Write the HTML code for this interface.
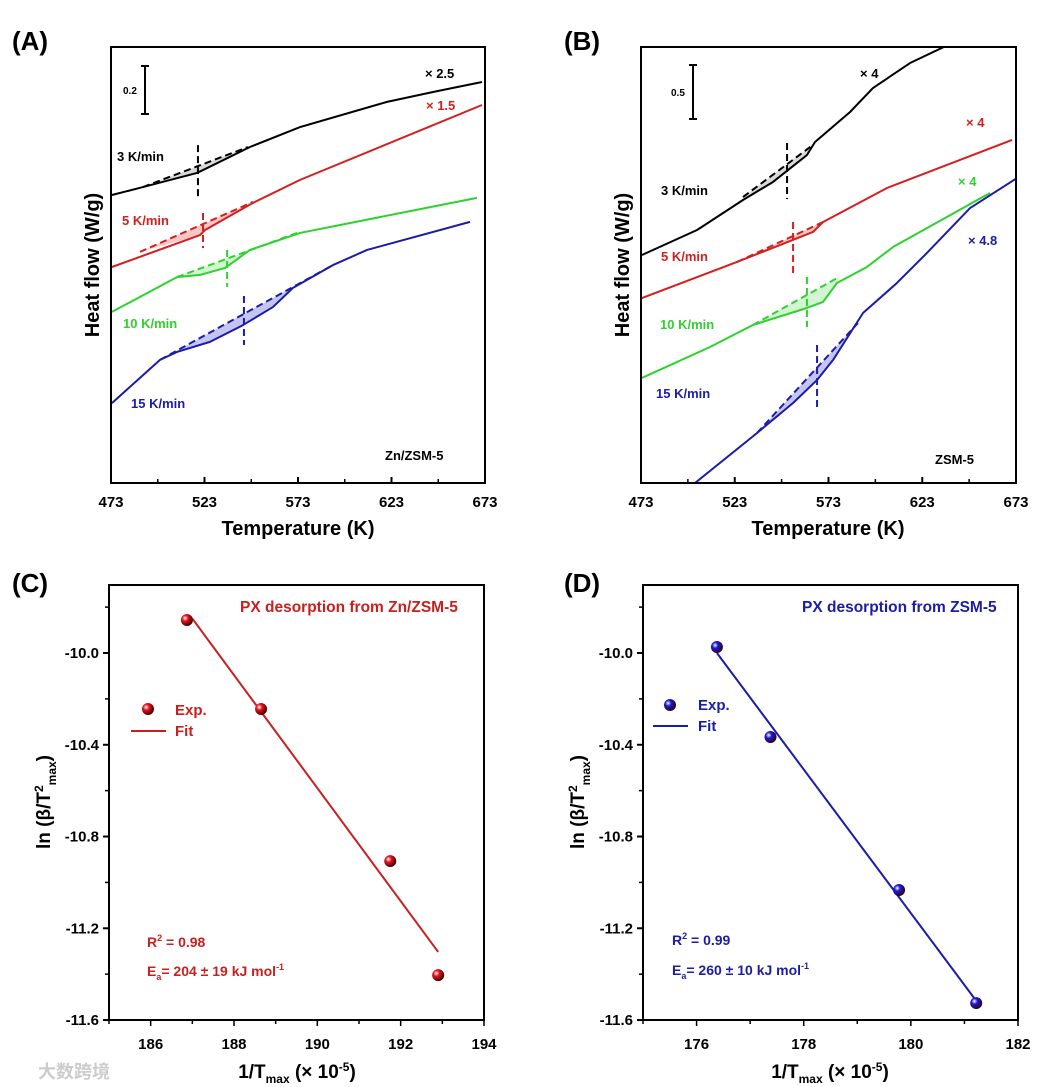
<!DOCTYPE html>
<html><head><meta charset="utf-8"><style>
body{margin:0;background:#fff;}
svg{display:block;font-family:"Liberation Sans",Arial,sans-serif;font-weight:bold;}
polyline,line{stroke-linejoin:round;}
</style></head><body>
<svg id="fig" width="1044" height="1087" viewBox="0 0 1044 1087" xmlns="http://www.w3.org/2000/svg"></svg>
<script>
// ===== Panel A data (Zn/ZSM-5 DSC) =====
const aBlackT=[473.5,490.1,519.0,522.2,547.3,574.1,620.6,645.2,671.4];
const aBlackV=[1.200,1.233,1.292,1.304,1.400,1.483,1.588,1.629,1.671];
const aRedT=[473.5,520.6,523.3,548.9,574.1,671.4];
const aRedV=[0.900,1.033,1.054,1.167,1.263,1.575];
const aGreenT=[473.5,508.3,520.6,534.0,547.3,574.1,668.7];
const aGreenV=[0.713,0.858,0.867,0.896,0.971,1.042,1.188];
const aBlueT=[473.5,499.2,508.3,525.9,543.6,559.6,570.3,591.7,609.9,665.0];
const aBlueV=[0.333,0.513,0.546,0.588,0.658,0.733,0.813,0.908,0.971,1.088];
const aBaseT=[[490.1,546.2],[488.5,548.9],[508.3,572.5],[499.2,591.7]];
const aBaseV=[[1.233,1.400],[0.963,1.171],[0.858,1.042],[0.513,0.908]];
const aPeakT=[519.5,522.2,535.1,544.1];
const aPeakV=[[1.408,1.183],[1.125,0.979],[0.971,0.817],[0.779,0.575]];
// ===== Panel B data (ZSM-5 DSC) =====
const bBlackT=[473.5,502.9,527.4,543.4,561.5,565.8,584.5,596.7,616.5,636.7];
const bBlackV=[2.151,2.387,2.670,2.840,3.094,3.217,3.500,3.726,3.962,4.132];
const bRedT=[473.5,524.2,547.1,564.7,570.1,604.2,670.9];
const bRedV=[1.745,2.085,2.245,2.368,2.462,2.783,3.236];
const bGreenT=[473.5,509.8,532.7,561.5,570.1,577.5,593.5,607.4,659.1];
const bGreenV=[0.991,1.283,1.491,1.651,1.708,1.887,2.038,2.226,2.736];
const bBlueT=[501.8,534.9,554.1,566.9,575.4,591.4,609.5,625.5,648.5,673.5];
const bBlueV=[0.0,0.472,0.755,0.972,1.160,1.604,1.887,2.170,2.594,2.877];
const bBaseT=[[527.4,564.7],[524.2,570.1],[532.7,578.6],[534.9,588.7]];
const bBaseV=[[2.698,3.189],[2.085,2.462],[1.491,1.943],[0.472,1.509]];
const bPeakT=[550.9,554.1,561.5,566.9];
const bPeakV=[[3.208,2.679],[2.462,1.962],[1.943,1.472],[1.302,0.708]];
const tempTicks=[473,523,573,623,673];
// ===== Panel C/D data =====
const cX=[186.87,188.65,191.75,192.90];
const cY=[-9.856,-10.244,-10.907,-11.404];
const cFitX=[187.0,192.9];
const cFitY=[-9.85,-11.303];
const dX=[176.38,177.38,179.78,181.22];
const dY=[-9.974,-10.366,-11.033,-11.526];
const dFitX=[176.38,181.2];
const dFitY=[-10.0,-11.51];
const lnTicks=[-10.0,-10.4,-10.8,-11.2,-11.6];
const cTicks=[186,188,190,192,194];
const dTicks=[176,178,180,182];

const NS="http://www.w3.org/2000/svg";
const svg=document.getElementById('fig');
function el(tag,attrs,parent){const e=document.createElementNS(NS,tag);for(const k in attrs)e.setAttribute(k,attrs[k]);(parent||svg).appendChild(e);return e;}
function txt(s,x,y,size,fill,anchor,parent){const t=el('text',{x:x,y:y,'font-size':size,fill:fill||'#000','text-anchor':anchor||'start'},parent);t.textContent=s;return t;}

const defs=el('defs',{});
function grad(id,c){const g=el('radialGradient',{id:id,cx:'0.35',cy:'0.35',r:'0.7'},defs);el('stop',{offset:'0','stop-color':'#fff'},g);el('stop',{offset:'0.35','stop-color':c},g);el('stop',{offset:'1','stop-color':'#300'},g);}
grad('gr','#e8141c');grad('gb','#1a1ad8');
const clipA=el('clipPath',{id:'clipA'},defs);el('rect',{x:111,y:47,width:374,height:436},clipA);
const clipB=el('clipPath',{id:'clipB'},defs);el('rect',{x:641,y:47,width:375,height:436},clipB);

function dscPanel(o){
  const g=el('g',{'clip-path':'url(#'+o.clip+')'});
  
  
  const X=T=>o.x0+(T-473)*(o.w/200), Y=v=>483-v*o.k;
  o.series.forEach((s,i)=>{
    const bt=o.baseT[i], bv=o.baseV[i];
    let pts=[[X(bt[0]),Y(bv[0])],[X(bt[1]),Y(bv[1])]];
    for(let j=s.T.length-1;j>=0;j--){if(s.T[j]>=bt[0]-0.5&&s.T[j]<=bt[1]+0.5)pts.push([X(s.T[j]),Y(s.V[j])]);}
    const f=el('polygon',{points:pts.map(p=>p.join(',')).join(' '),fill:s.fill,'fill-opacity':0.45,stroke:'none'},g);
    
    
    const p=el('polyline',{points:s.T.map((t,j)=>X(t)+','+Y(s.V[j])).join(' '),fill:'none',stroke:s.c,'stroke-width':2},g);
    
    
    const d=el('line',{x1:X(bt[0]),y1:Y(bv[0]),x2:X(bt[1]),y2:Y(bv[1]),stroke:s.c,'stroke-width':2,'stroke-dasharray':'7,4'},g);
    
    
    const pv=o.peakV[i];
    const v=el('line',{x1:X(o.peakT[i]),y1:Y(pv[0]),x2:X(o.peakT[i]),y2:Y(pv[1]),stroke:s.c,'stroke-width':2,'stroke-dasharray':'7,4'},g);
    
    
  });
  const fr=el('rect',{x:o.x0,y:47,width:o.w,height:436,fill:'none',stroke:'#000','stroke-width':2});
  
  
  tempTicks.forEach((t,i)=>{
    el('line',{x1:X(t),y1:483,x2:X(t),y2:477,stroke:'#000','stroke-width':2});
    if(i<tempTicks.length-1)el('line',{x1:X(t+25),y1:483,x2:X(t+25),y2:479,stroke:'#000','stroke-width':1.5});
    const l=txt(String(t),X(t),507,15,'#000','middle');
    
    
  });
}
dscPanel({name:'panel-a',clip:'clipA',x0:111,w:374,k:240,baseT:aBaseT,baseV:aBaseV,peakT:aPeakT,peakV:aPeakV,series:[
 {key:'3k',T:aBlackT,V:aBlackV,c:'#000',fill:'#aaa'},{key:'5k',T:aRedT,V:aRedV,c:'#d3201f',fill:'#f08080'},
 {key:'10k',T:aGreenT,V:aGreenV,c:'#2fd12f',fill:'#9be89b'},{key:'15k',T:aBlueT,V:aBlueV,c:'#1c1ca6',fill:'#7f7fe6'}]});
dscPanel({name:'panel-b',clip:'clipB',x0:641,w:375,k:106,baseT:bBaseT,baseV:bBaseV,peakT:bPeakT,peakV:bPeakV,series:[
 {key:'3k',T:bBlackT,V:bBlackV,c:'#000',fill:'#aaa'},{key:'5k',T:bRedT,V:bRedV,c:'#d3201f',fill:'#f08080'},
 {key:'10k',T:bGreenT,V:bGreenV,c:'#2fd12f',fill:'#9be89b'},{key:'15k',T:bBlueT,V:bBlueV,c:'#1c1ca6',fill:'#7f7fe6'}]});

function lnPanel(o){
  const X=v=>o.x0+(v-o.xmin)*(o.w/(o.xmax-o.xmin));
  const Yf=v=>653+(-10-v)*229.4;
  const fr=el('rect',{x:o.x0,y:585,width:o.w,height:435,fill:'none',stroke:'#000','stroke-width':2});
  
  
  lnTicks.forEach(t=>{
    el('line',{x1:o.x0-6,y1:Yf(t),x2:o.x0,y2:Yf(t),stroke:'#000','stroke-width':2});
    el('line',{x1:o.x0-4,y1:Yf(t+0.2),x2:o.x0,y2:Yf(t+0.2),stroke:'#000','stroke-width':1.5});
    const l=txt(t.toFixed(1),o.x0-10,Yf(t)+5,15,'#000','end');
    
    
  });
  for(let v=o.xmin;v<=o.xmax;v+=1){el('line',{x1:X(v),y1:1020,x2:X(v),y2:o.ticks.includes(v)?1026:1024,stroke:'#000','stroke-width':1.5});}
  o.ticks.forEach(t=>{const l=txt(String(t),X(t),1049,15,'#000','middle');
    
    });
  const fl=el('line',{x1:X(o.fx[0]),y1:Yf(o.fy[0]),x2:X(o.fx[1]),y2:Yf(o.fy[1]),stroke:o.c,'stroke-width':2});
  
  
  o.px.forEach((v,i)=>{const c=el('circle',{cx:X(v),cy:Yf(o.py[i]),r:6,fill:'url(#'+o.g+')'});
    
    });
}
lnPanel({name:'panel-c',x0:109,w:375,xmin:185,xmax:194,ticks:cTicks,px:cX,py:cY,fx:cFitX,fy:cFitY,c:'#c8201f',g:'gr'});
lnPanel({name:'panel-d',x0:643,w:375,xmin:175,xmax:182,ticks:dTicks,px:dX,py:dY,fx:dFitX,fy:dFitY,c:'#1c1ca6',g:'gb'});
</script>
<svg width="1044" height="1087" style="position:absolute;left:0;top:0" xmlns="http://www.w3.org/2000/svg" font-family="Liberation Sans, Arial, sans-serif" font-weight="bold">
<text x="12" y="50" font-size="26">(A)</text>
<text x="564" y="50" font-size="26">(B)</text>
<text x="12" y="592" font-size="26">(C)</text>
<text x="564" y="592" font-size="26">(D)</text>
<text transform="translate(99,265) rotate(-90)" text-anchor="middle" font-size="20">Heat flow (W/g)</text>
<text transform="translate(629,265) rotate(-90)" text-anchor="middle" font-size="20">Heat flow (W/g)</text>
<text x="298" y="535" text-anchor="middle" font-size="20">Temperature (K)</text>
<text x="828" y="535" text-anchor="middle" font-size="20">Temperature (K)</text>
<text transform="translate(50,802) rotate(-90)" text-anchor="middle" font-size="19">ln (β/T<tspan dy="-7" font-size="12">2</tspan><tspan dy="13" font-size="12">max</tspan><tspan dy="-6">)</tspan></text>
<text transform="translate(584,802) rotate(-90)" text-anchor="middle" font-size="19">ln (β/T<tspan dy="-7" font-size="12">2</tspan><tspan dy="13" font-size="12">max</tspan><tspan dy="-6">)</tspan></text>
<text x="297" y="1078" text-anchor="middle" font-size="19">1/T<tspan dy="5" font-size="12">max</tspan><tspan dy="-5"> (× 10</tspan><tspan dy="-7" font-size="12">-5</tspan><tspan dy="7">)</tspan></text>
<text x="830" y="1078" text-anchor="middle" font-size="19">1/T<tspan dy="5" font-size="12">max</tspan><tspan dy="-5"> (× 10</tspan><tspan dy="-7" font-size="12">-5</tspan><tspan dy="7">)</tspan></text>
<g stroke="#000" stroke-width="2"><line x1="145" y1="66" x2="145" y2="114"/><line x1="141" y1="66" x2="149" y2="66"/><line x1="141" y1="114" x2="149" y2="114"/></g>
<text x="123" y="94" font-size="10">0.2</text>
<g stroke="#000" stroke-width="2"><line x1="693" y1="65" x2="693" y2="119"/><line x1="689" y1="65" x2="697" y2="65"/><line x1="689" y1="119" x2="697" y2="119"/></g>
<text x="671" y="96" font-size="10">0.5</text>
<g font-size="13">
<text x="117" y="161" fill="#000">3 K/min</text>
<text x="122" y="225" fill="#d3201f">5 K/min</text>
<text x="123" y="328" fill="#2fd12f">10 K/min</text>
<text x="131" y="408" fill="#1c1ca6">15 K/min</text>
<text x="425" y="78" fill="#000">× 2.5</text>
<text x="426" y="110" fill="#d3201f">× 1.5</text>
<text x="385" y="460" fill="#000">Zn/ZSM-5</text>
<text x="661" y="195" fill="#000">3 K/min</text>
<text x="661" y="261" fill="#d3201f">5 K/min</text>
<text x="660" y="329" fill="#2fd12f">10 K/min</text>
<text x="656" y="398" fill="#1c1ca6">15 K/min</text>
<text x="860" y="78" fill="#000">× 4</text>
<text x="966" y="127" fill="#d3201f">× 4</text>
<text x="958" y="186" fill="#2fd12f">× 4</text>
<text x="968" y="245" fill="#1c1ca6">× 4.8</text>
<text x="935" y="464" fill="#000">ZSM-5</text>
</g>
<g font-size="14">
<text x="240" y="612" font-size="15.5" fill="#c8201f">PX desorption from Zn/ZSM-5</text>
<text x="802" y="612" font-size="15.5" fill="#1c1ca6">PX desorption from ZSM-5</text>
<text x="175" y="715" font-size="15" fill="#c8201f">Exp.</text>
<text x="175" y="736" font-size="15" fill="#c8201f">Fit</text>
<text x="698" y="710" font-size="15" fill="#1c1ca6">Exp.</text>
<text x="698" y="731" font-size="15" fill="#1c1ca6">Fit</text>
<text x="147" y="947" fill="#c8201f">R<tspan dy="-6" font-size="9">2</tspan><tspan dy="6"> = 0.98</tspan></text>
<text x="147" y="976" fill="#c8201f">E<tspan dy="4" font-size="9">a</tspan><tspan dy="-4">= 204 ± 19 kJ mol</tspan><tspan dy="-6" font-size="9">-1</tspan></text>
<text x="672" y="945" fill="#1c1ca6">R<tspan dy="-6" font-size="9">2</tspan><tspan dy="6"> = 0.99</tspan></text>
<text x="672" y="975" fill="#1c1ca6">E<tspan dy="4" font-size="9">a</tspan><tspan dy="-4">= 260 ± 10 kJ mol</tspan><tspan dy="-6" font-size="9">-1</tspan></text>
</g>
<circle cx="148" cy="709" r="6" fill="url(#gr)"/>
<line x1="131" y1="731" x2="166" y2="731" stroke="#c8201f" stroke-width="2"/>
<circle cx="670" cy="705" r="6" fill="url(#gb)"/>
<line x1="653" y1="726" x2="688" y2="726" stroke="#1c1ca6" stroke-width="2"/>
<text x="38" y="1078" font-size="18" fill="#ccc" font-family="Noto Sans CJK SC, sans-serif">大数跨境</text>
</svg>
</body></html>
